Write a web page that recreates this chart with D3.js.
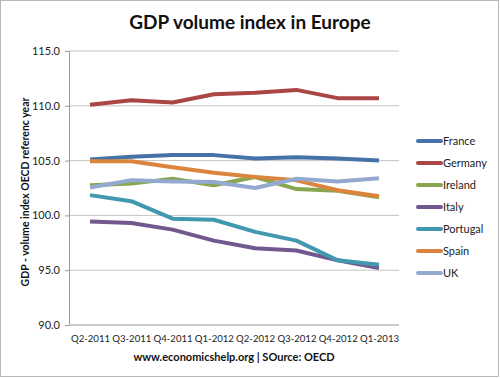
<!DOCTYPE html>
<html><head><meta charset="utf-8">
<script src="https://cdn.jsdelivr.net/npm/d3@7"></script>
<style>body{margin:0;background:#fff}svg{display:block}</style>
</head><body>
<script>
const quarters = ["Q2-2011","Q3-2011","Q4-2011","Q1-2012","Q2-2012","Q3-2012","Q4-2012","Q1-2013"];
const yTicks = [90,95,100,105,110,115];
const france   = [105.1,105.35,105.5,105.5,105.2,105.3,105.2,105.0];
const germany  = [110.1,110.5,110.3,111.05,111.2,111.45,110.7,110.7];
const ireland  = [102.75,102.9,103.35,102.75,103.5,102.4,102.25,101.65];
const italy    = [99.45,99.3,98.7,97.7,97.0,96.8,95.9,95.2];
const portugal = [101.85,101.3,99.7,99.6,98.5,97.7,95.9,95.5];
const spain    = [104.95,104.95,104.4,103.9,103.5,103.2,102.3,101.75];
const uk       = [102.55,103.2,103.1,103.05,102.5,103.35,103.1,103.4];
const seriesNames = ["France","Germany","Ireland","Italy","Portugal","Spain","UK"];
const seriesValues = [france,germany,ireland,italy,portugal,spain,uk];
const colors = ["#4572A7","#AA4643","#89A54E","#71588F","#4198AF","#DB843D","#93A9CF"];

const W=500,H=379;
const svg=d3.select("body").append("svg").attr("width",W).attr("height",H);
const font="Lato, 'Open Sans', sans-serif";
svg.append("rect").attr("x",0.5).attr("y",0.5).attr("width",W-2).attr("height",H-3)
  .attr("fill","#fff").attr("stroke","#b8b8b8");

const x=d3.scalePoint().domain(quarters).range([90,379]);
const y=d3.scaleLinear().domain([90,115]).range([325,51]);
const left=69,right=399;

const g=svg.append("g");
g.selectAll(".grid").data(yTicks.filter(t=>t>90)).join("line")
  .attr("x1",left).attr("x2",right).attr("y1",d=>y(d)).attr("y2",d=>y(d))
  .attr("stroke","#c4c4c4").attr("stroke-width",1);

const yAxis=g.append("g").attr("transform",`translate(${left},0)`)
  .call(d3.axisLeft(y).tickValues(yTicks).tickFormat(d3.format(".1f")).tickSize(4).tickPadding(5));
yAxis.select(".domain").attr("stroke","#9a9a9a");
yAxis.selectAll(".tick line").attr("stroke","#9a9a9a");
yAxis.selectAll("text").attr("font-family",font).attr("font-size",11).attr("fill","#222");

const xAxis=g.append("g").attr("transform",`translate(0,${y(90)})`)
  .call(d3.axisBottom(x).tickSize(0).tickPadding(10));
xAxis.select(".domain").attr("d",`M${left},0H${right}`).attr("stroke","#bbbbbb").attr("stroke-width",1.5);
xAxis.selectAll("text").attr("font-family",font).attr("font-size",9.6).attr("fill","#222");

const line=d3.line().x((d,i)=>x(quarters[i])).y(d=>y(d));
seriesValues.forEach((vals,k)=>{
  g.append("path").datum(vals).attr("d",line).attr("fill","none")
   .attr("stroke",colors[k]).attr("stroke-width",4).attr("stroke-linejoin","round");
});

// legend
const lg=svg.append("g");
seriesNames.forEach((n,k)=>{
  const yy=141+k*22;
  lg.append("line").attr("x1",418).attr("x2",441).attr("y1",yy).attr("y2",yy)
    .attr("stroke",colors[k]).attr("stroke-width",4).attr("stroke-linecap","round");
  lg.append("text").attr("x",443).attr("y",yy+4).text(n)
    .attr("font-family",font).attr("font-size",11).attr("fill","#222");
});

svg.append("text").attr("x",250).attr("y",29).attr("text-anchor","middle")
  .attr("font-family",font).attr("font-weight","bold").attr("font-size",19).attr("fill","#111")
  .text("GDP volume index in Europe");
svg.append("text").attr("transform","translate(29,192) rotate(-90)").attr("text-anchor","middle")
  .attr("font-family",font).attr("font-weight","bold").attr("font-size",10.5).attr("fill","#111")
  .text("GDP - volume index OECD referenc year");
svg.append("text").attr("x",234).attr("y",361).attr("text-anchor","middle")
  .attr("font-family",font).attr("font-weight","bold").attr("font-size",11).attr("fill","#111")
  .text("www.economicshelp.org | SOurce: OECD");
</script>
</body></html>
